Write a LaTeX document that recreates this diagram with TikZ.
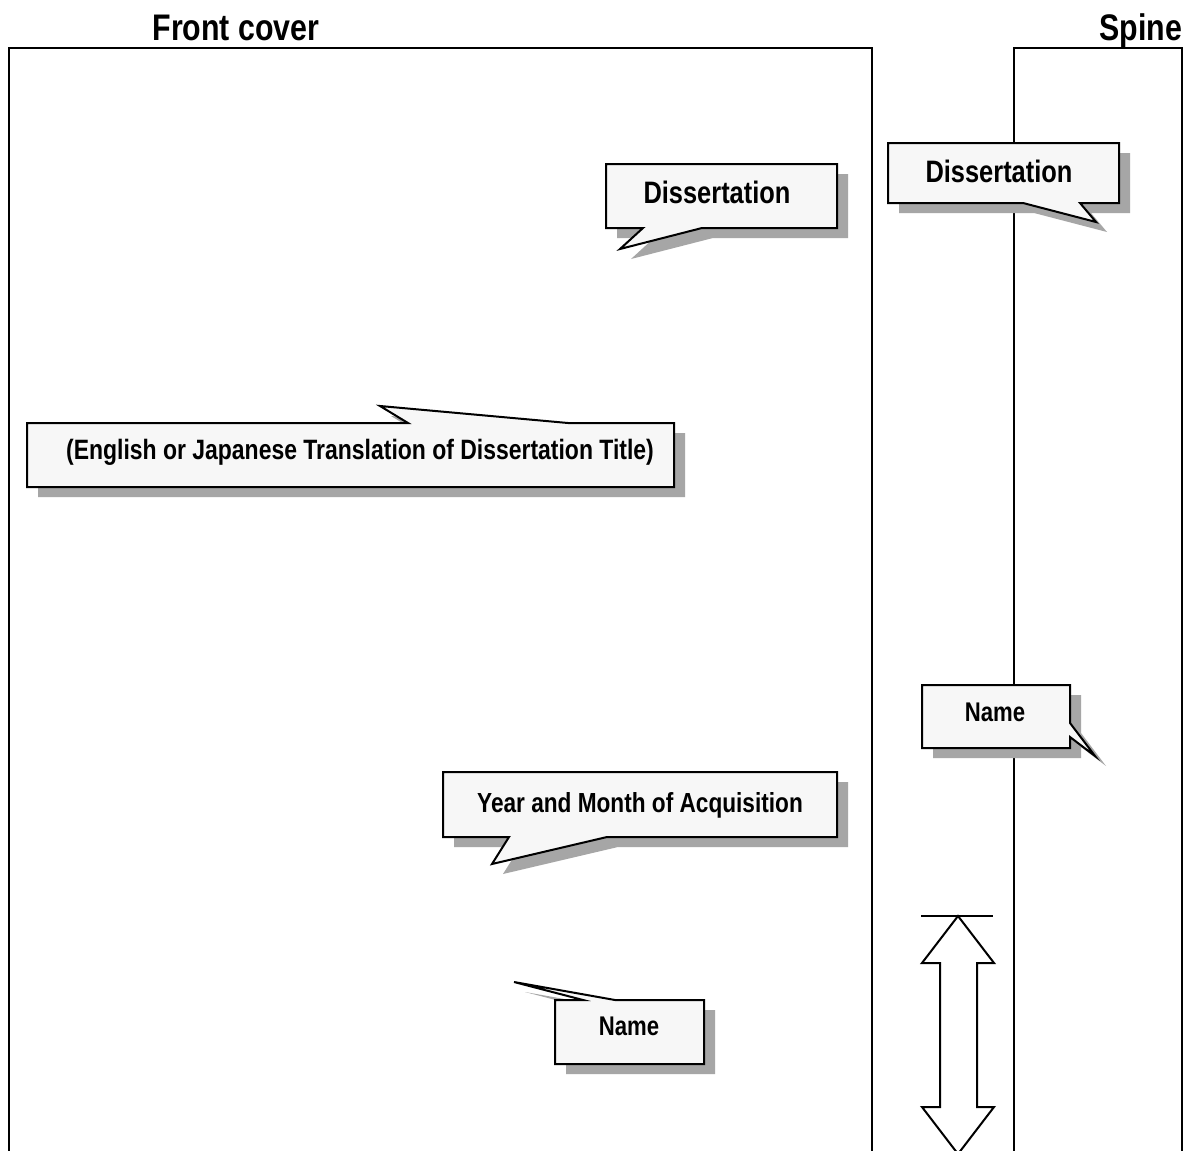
\documentclass[tikz,border=0pt]{standalone}
\usepackage{fontspec}
\newfontfamily\narrowfont[FakeStretch=0.82]{Liberation Sans}
\definecolor{shadowgray}{HTML}{A6A6A6}
\definecolor{boxfill}{HTML}{F7F7F7}
\tikzset{
  coverline/.style={line width=1.5pt, black},
  calloutbox/.style={draw=black, line width=2pt, fill=boxfill, line join=miter},
  calloutshadow/.style={fill=shadowgray, draw=none},
  lbl/.style={inner sep=0pt, anchor=base, font=\narrowfont\bfseries},
  arrowshape/.style={draw=black, line width=2pt, fill=white, line join=miter},
}
\begin{document}
\begin{tikzpicture}[x=1pt, y=-1pt]
\clip (0,0) rectangle (1200,1151);
\fill[white] (0,0) rectangle (1200,1151);
% covers
\draw[coverline] (9,1160) -- (9,48) -- (872,48) -- (872,1160);
\draw[coverline] (1014,1160) -- (1014,48) -- (1182,48) -- (1182,1160);
\node[lbl, font=\narrowfont\bfseries\fontsize{37}{40}\selectfont] (tfront) at (236,40) {Front cover};
\node[lbl, font=\narrowfont\bfseries\fontsize{37}{40}\selectfont] (tspine) at (1141,40) {Spine};
% callout 1 : front Dissertation
\fill[calloutshadow, shift={(11,10)}] (606,164) -- (837,164) -- (837,228) -- (702,228) -- (620,249) -- (643,228) -- (606,228) -- cycle;
\draw[calloutbox] (606,164) -- (837,164) -- (837,228) -- (702,228) -- (620,249) -- (643,228) -- (606,228) -- cycle;
\node[lbl, font=\narrowfont\bfseries\fontsize{31}{34}\selectfont] (dfront) at (717,203) {Dissertation};
% callout 2 : spine Dissertation
\fill[calloutshadow, shift={(11,10)}] (888,143) -- (1119,143) -- (1119,203) -- (1080,203) -- (1096,222) -- (1023,203) -- (888,203) -- cycle;
\draw[calloutbox] (888,143) -- (1119,143) -- (1119,203) -- (1080,203) -- (1096,222) -- (1023,203) -- (888,203) -- cycle;
\node[lbl, font=\narrowfont\bfseries\fontsize{31}{34}\selectfont] (dspine) at (999,182) {Dissertation};
% callout 3 : English title
\fill[calloutshadow, shift={(11,10)}] (27,423) -- (408,423) -- (380,406) -- (568,423) -- (674,423) -- (674,487) -- (27,487) -- cycle;
\draw[calloutbox] (27,423) -- (408,423) -- (380,406) -- (568,423) -- (674,423) -- (674,487) -- (27,487) -- cycle;
\node[lbl, font=\narrowfont\bfseries\fontsize{28}{31}\selectfont] (etitle) at (360,459) {(English or Japanese Translation of Dissertation Title)};
% callout 4 : spine Name
\fill[calloutshadow, shift={(11,10)}] (922,685) -- (1070,685) -- (1070,723) -- (1095,756) -- (1070,737) -- (1070,748) -- (922,748) -- cycle;
\draw[calloutbox] (922,685) -- (1070,685) -- (1070,723) -- (1095,756) -- (1070,737) -- (1070,748) -- (922,748) -- cycle;
\node[lbl, font=\narrowfont\bfseries\fontsize{27}{30}\selectfont] (nspine) at (995,721) {Name};
% callout 5 : Year and Month
\fill[calloutshadow, shift={(11,10)}] (443,772) -- (837,772) -- (837,837) -- (607,837) -- (492,864) -- (509,837) -- (443,837) -- cycle;
\draw[calloutbox] (443,772) -- (837,772) -- (837,837) -- (607,837) -- (492,864) -- (509,837) -- (443,837) -- cycle;
\node[lbl, font=\narrowfont\bfseries\fontsize{27.6}{30}\selectfont] (year) at (640,812) {Year and Month of Acquisition};
% callout 6 : front Name
\fill[calloutshadow, shift={(11,10)}] (555,1000) -- (583,1000) -- (514,982) -- (615,1000) -- (704,1000) -- (704,1064) -- (555,1064) -- cycle;
\draw[calloutbox] (555,1000) -- (583,1000) -- (514,982) -- (615,1000) -- (704,1000) -- (704,1064) -- (555,1064) -- cycle;
\node[lbl, font=\narrowfont\bfseries\fontsize{27}{30}\selectfont] (nfront) at (629,1035) {Name};
% double arrow
\draw[line width=2pt] (921,916) -- (993,916);
\draw[arrowshape] (958,916) -- (994,963) -- (977,963) -- (977,1107) -- (994,1107) -- (958,1154) -- (922,1107) -- (940,1107) -- (940,963) -- (922,963) -- cycle;
\end{tikzpicture}
\end{document}
